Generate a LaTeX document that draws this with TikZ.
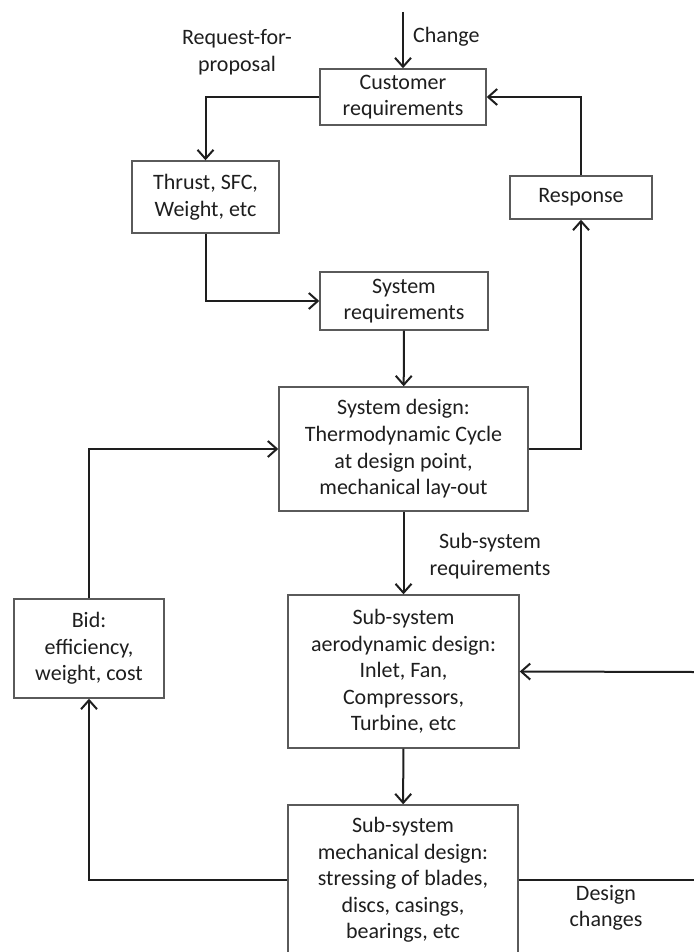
\documentclass[tikz,border=0pt]{standalone}
\usepackage{fontspec}
\setmainfont{Carlito}
\usetikzlibrary{arrows.meta,positioning}
\definecolor{ink}{HTML}{1E1E1E}
\definecolor{edge}{HTML}{5A5A5A}
\tikzset{
  box/.style={draw=edge,line width=.7pt,fill=white,inner sep=0pt,align=center,text=ink,font=\fontsize{11}{13.3}\selectfont},
  plain/.style={align=center,text=ink,font=\fontsize{11}{13.3}\selectfont},
  ar/.style={-{Straight Barb[length=4.5pt,width=8pt,line width=1pt]},draw=ink,line width=1pt},
  ln/.style={draw=ink,line width=1pt},
}
\begin{document}
\begin{tikzpicture}[x=0.5pt,y=-0.5pt]
  \useasboundingbox (0,0) rectangle (694,952);
  % boxes
  \node[box,minimum width=83pt,minimum height=28pt] (cust) at (403,97) {Customer\\requirements};
  \node[box,minimum width=73.5pt,minimum height=36pt] (thrust) at (205.5,197) {Thrust, SFC,\\Weight, etc};
  \node[box,minimum width=84pt,minimum height=29pt] (sysreq) at (404,301) {System\\requirements};
  \node[box,minimum width=71pt,minimum height=21.5pt] (resp) at (581,197.5) {Response};
  \node[box,minimum width=124.5pt,minimum height=62pt] (sysdes) at (403.5,449) {System design:\\Thermodynamic Cycle\\at design point,\\mechanical lay-out};
  \node[box,minimum width=75pt,minimum height=49.5pt] (bid) at (89,648.5) {Bid:\\efficiency,\\weight, cost};
  \node[box,minimum width=115.5pt,minimum height=76.5pt] (aero) at (403.5,671.5) {Sub-system\\aerodynamic design:\\Inlet, Fan,\\Compressors,\\Turbine, etc};
  \node[box,minimum width=115pt,minimum height=75pt] (mech) at (403,880) {Sub-system\\mechanical design:\\stressing of blades,\\discs, casings,\\bearings, etc};
  % labels
  \node[plain] (rfp) at (237,52) {Request-for-\\proposal};
  \node[plain,anchor=west] (chgl) at (406,37) {Change};
  \node[plain] (subreq) at (490,556) {Sub-system\\requirements};
  \node[plain] (dchg) at (606,908) {Design\\changes};
  \coordinate (chg) at (403,12);
  \coordinate (inR) at (694,672);
  \coordinate (outR) at (694,880);
  % connectors
  \draw[ar] (chg) -- (cust.north);
  \draw[ar] (cust.west) -| (thrust.north);
  \draw[ar] (thrust.south) |- (sysreq.west);
  \draw[ar] (sysreq) -- (sysdes);
  \draw[ar] (sysdes.east) -| (resp.south);
  \draw[ar] (resp.north) |- (cust.east);
  \draw[ar] (bid.north) |- (sysdes.west);
  \draw[ar] (sysdes) -- (aero);
  \draw[ar] (aero) -- (mech);
  \draw[ar] (mech.west) -| (bid.south);
  \draw[ar] (inR) -- (aero.east);
  \draw[ln] (mech.east) -- (outR);
\end{tikzpicture}
\end{document}
